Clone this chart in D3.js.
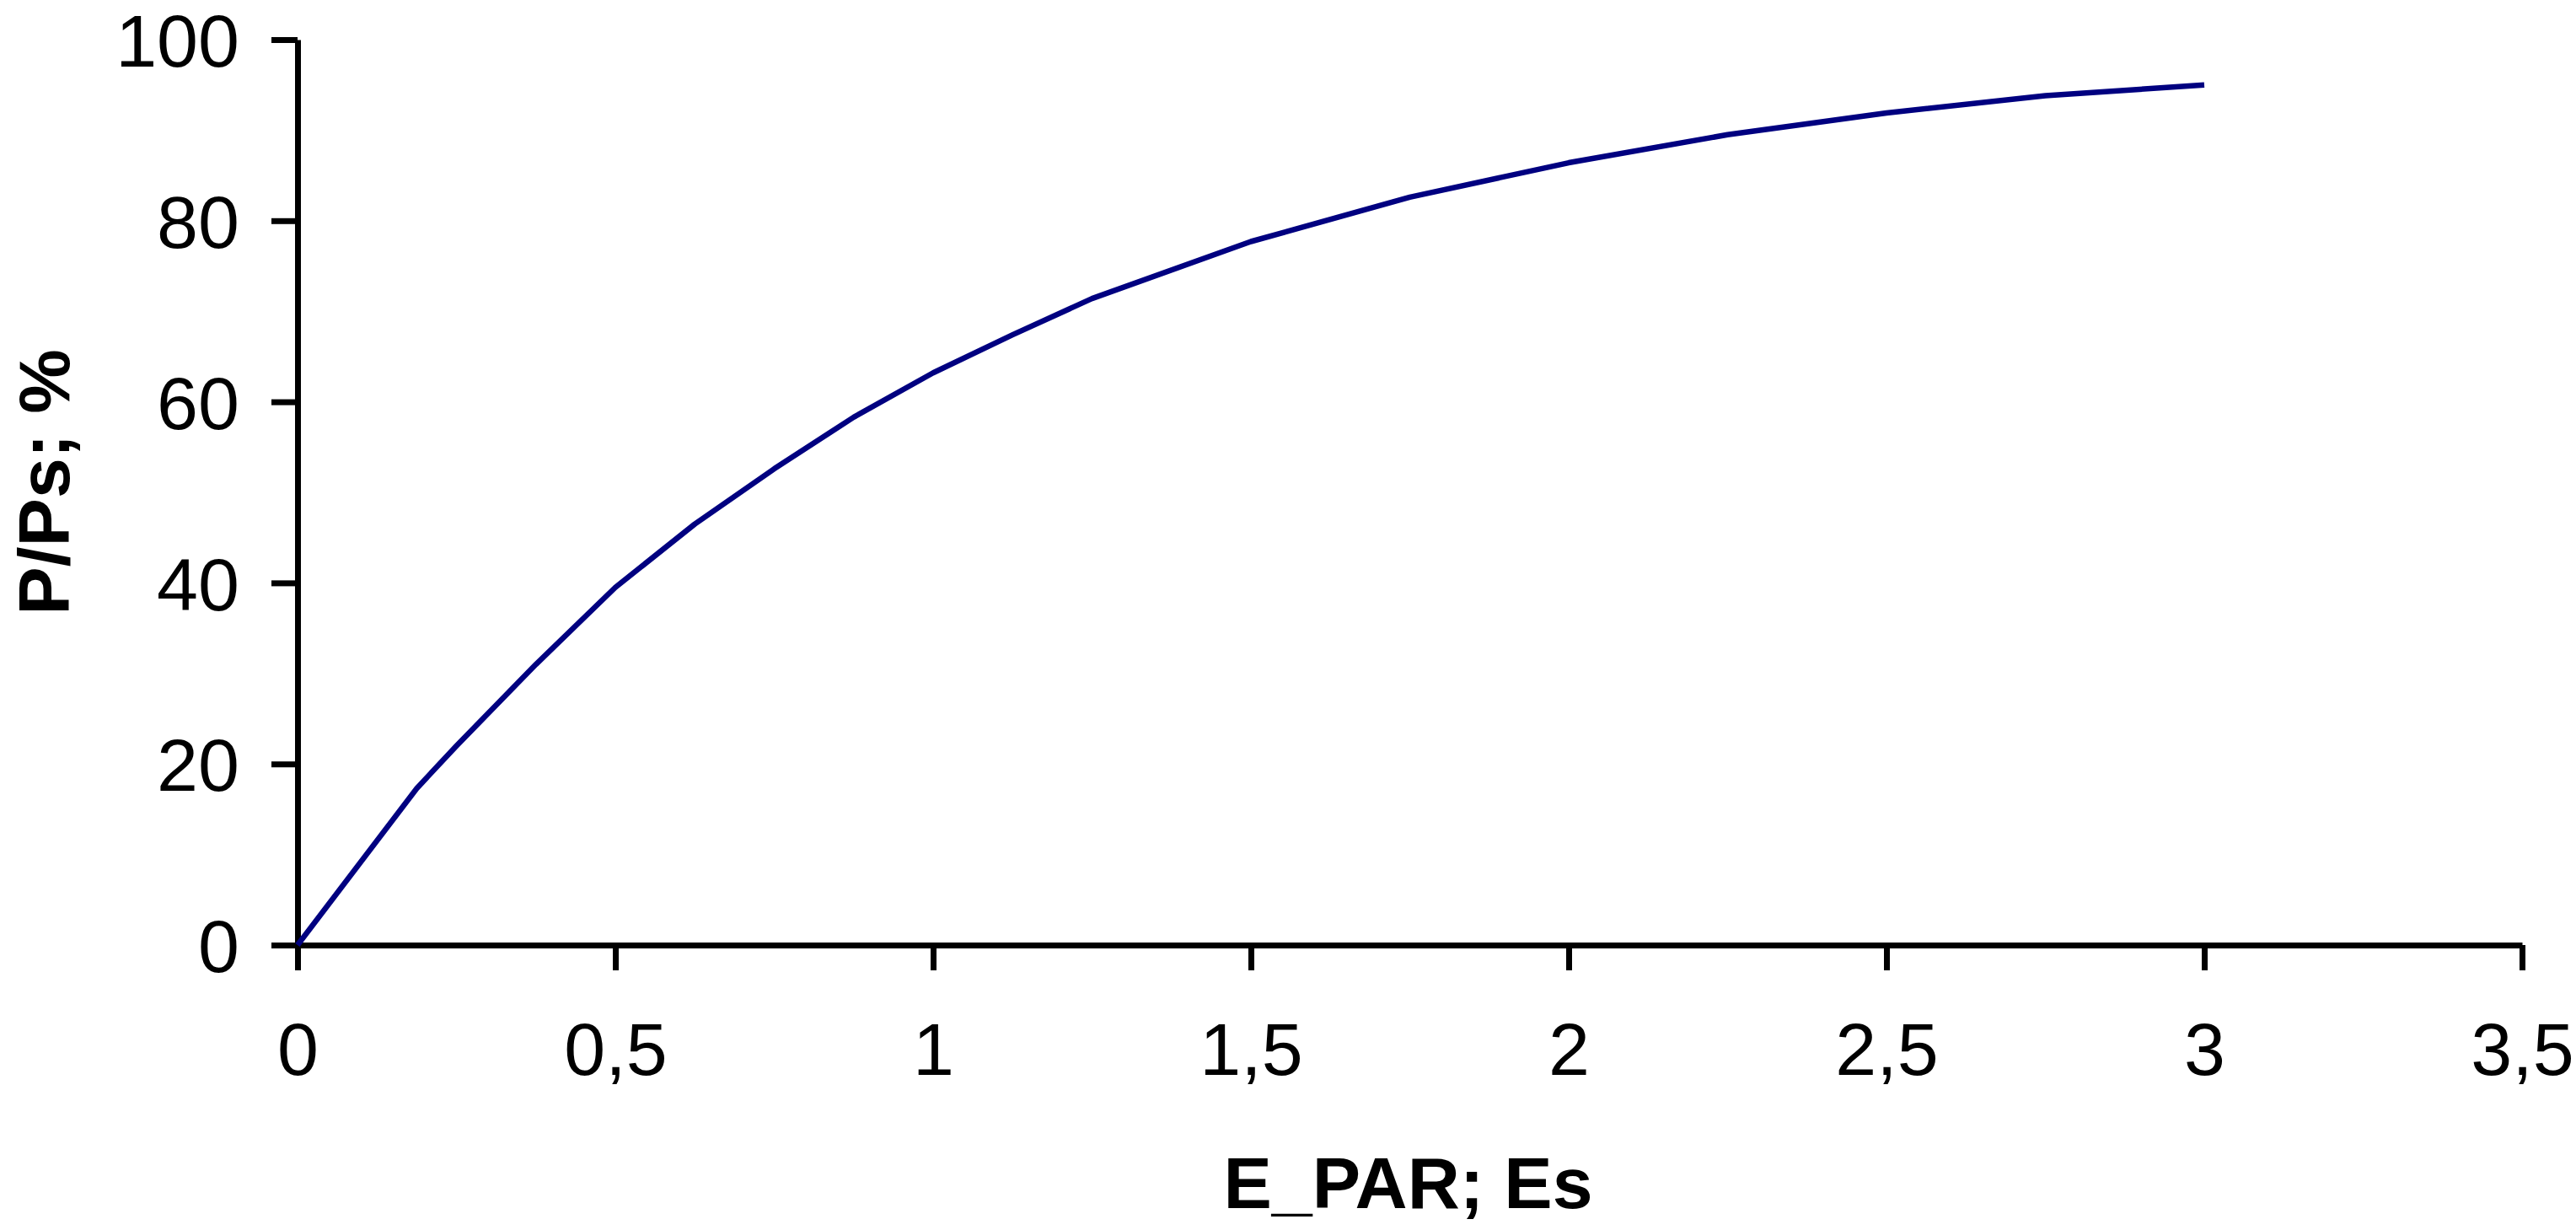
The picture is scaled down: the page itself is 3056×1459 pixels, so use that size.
<!DOCTYPE html>
<html>
<head>
<meta charset="utf-8">
<script src="https://cdn.jsdelivr.net/npm/d3@7"></script>
<style>
  html, body { margin: 0; padding: 0; background: #fff; }
  svg { display: block; }
  text { font-family: "Liberation Sans", Arial, sans-serif; }
</style>
</head>
<body>
<svg id="chart" width="3056" height="1459"></svg>
<script>
// Data
const ePar = [0, 0.1875, 0.25, 0.375, 0.5, 0.625, 0.75, 0.875, 1, 1.125, 1.25, 1.5, 1.75, 2, 2.25, 2.5, 2.75, 3];
const pPs  = [0, 17.3, 22.0, 31.0, 39.5, 46.5, 52.6, 58.3, 63.2, 67.4, 71.4, 77.7, 82.6, 86.4, 89.5, 91.9, 93.8, 95.0];
const xTicks = [0, 0.5, 1, 1.5, 2, 2.5, 3, 3.5];
const yTicks = [0, 20, 40, 60, 80, 100];
const xTitle = "E_PAR; Es";
const yTitle = "P/Ps; %";

const svg = d3.select("#chart");
const x = d3.scaleLinear().domain([0, 3.5]).range([353, 2992]);
const y = d3.scaleLinear().domain([0, 100]).range([1121, 47]);
const fmt = d => String(d).replace(".", ",");

const xAxis = svg.append("g")
  .attr("transform", `translate(0,${y(0)})`)
  .call(d3.axisBottom(x).tickValues(xTicks).tickFormat(fmt).tickSizeInner(30).tickSizeOuter(0).tickPadding(62));
const yAxis = svg.append("g")
  .attr("transform", `translate(${x(0)},0)`)
  .call(d3.axisLeft(y).tickValues(yTicks).tickFormat(fmt).tickSizeInner(31).tickSizeOuter(0).tickPadding(38));

[xAxis, yAxis].forEach(g => {
  g.select(".domain").attr("stroke", "#000").attr("stroke-width", 7);
  g.selectAll(".tick line").attr("stroke", "#000").attr("stroke-width", 7);
  g.selectAll(".tick text")
    .attr("fill", "#000")
    .style("font-family", '"Liberation Sans", Arial, sans-serif')
    .style("font-size", "88px");
});
yAxis.selectAll(".tick text").attr("dy", "0.36em");
xAxis.selectAll(".tick text").attr("dy", "0.71em");

const data = ePar.map((e, i) => [e, pPs[i]]);
svg.append("path")
  .datum(data)
  .attr("fill", "none")
  .attr("stroke", "#000080")
  .attr("stroke-width", 6.5)
  .attr("stroke-linejoin", "round")
  .attr("d", d3.line().x(d => x(d[0])).y(d => y(d[1])));

svg.append("text")
  .attr("x", (x(0) + x(3.5)) / 2 - 2)
  .attr("y", 1433)
  .attr("text-anchor", "middle")
  .style("font-weight", "bold")
  .style("font-size", "86px")
  .text(xTitle);

svg.append("text")
  .attr("transform", `translate(82,572) rotate(-90)`)
  .attr("text-anchor", "middle")
  .style("font-weight", "bold")
  .style("font-size", "86px")
  .text(yTitle);
</script>
</body>
</html>
